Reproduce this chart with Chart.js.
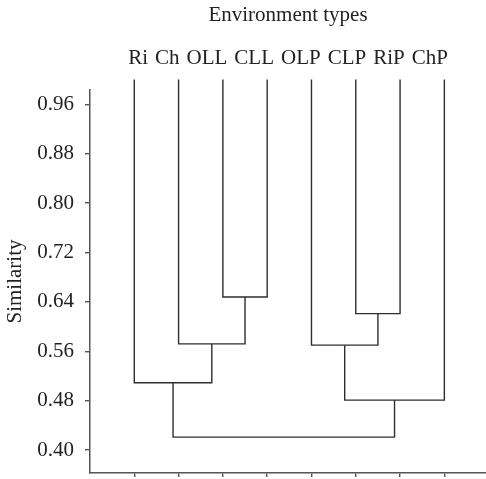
<!DOCTYPE html>
<html>
<head>
<meta charset="utf-8">
<script src="https://cdn.jsdelivr.net/npm/chart.js@4/dist/chart.umd.min.js"></script>
<style>
  html, body { margin: 0; padding: 0; background: #ffffff; }
  #wrap { width: 486px; height: 479px; position: relative; }
</style>
</head>
<body>
<div id="wrap"><canvas id="c"></canvas></div>
<script>
// ---- data ----
const categories = ['Ri', 'Ch', 'OLL', 'CLL', 'OLP', 'CLP', 'RiP', 'ChP'];
const leafHeight = 1.0;
// merges (cluster ids: 0-7 leaves, 8+ merges in order)
const mergeLeft   = [2, 1, 0, 5, 4, 12, 10];
const mergeRight  = [3, 8, 9, 6, 11, 7, 13];
const mergeHeight = [0.648, 0.572, 0.509, 0.621, 0.570, 0.481, 0.421];
const yTickValues = [0.40, 0.48, 0.56, 0.64, 0.72, 0.80, 0.88, 0.96];
const xTickValues = [1, 2, 3, 4, 5, 6, 7, 8];

// ---- build dendrogram segments ----
const nodeX = categories.map((_, i) => i + 1);
const nodeH = categories.map(() => leafHeight);
const datasets = [];
mergeLeft.forEach((a, k) => {
  const b = mergeRight[k];
  const h = mergeHeight[k];
  const xa = nodeX[a], xb = nodeX[b];
  datasets.push({
    data: [{x: xa, y: nodeH[a]}, {x: xa, y: h}, {x: xb, y: h}, {x: xb, y: nodeH[b]}],
    borderColor: '#2e2e2e',
    borderWidth: 1.4,
    pointRadius: 0,
    fill: false,
    tension: 0,
    clip: false
  });
  nodeX.push((xa + xb) / 2);
  nodeH.push(h);
});

const FONT = "'Liberation Serif', 'Times New Roman', serif";
const axisColor = '#555555';

new Chart(document.getElementById('c'), {
  type: 'line',
  data: { datasets },
  options: {
    responsive: true,
    maintainAspectRatio: false,
    animation: false,
    events: [],
    layout: { autoPadding: false, padding: { left: 0, right: 0, top: 0, bottom: 0 } },
    plugins: {
      legend: { display: false },
      tooltip: { enabled: false },
      title: {
        display: true,
        text: 'Environment types',
        fullSize: false,
        color: '#222222',
        font: { family: FONT, size: 21, weight: 'normal', lineHeight: 1.2 },
        padding: { top: 3, bottom: 17.2 }
      },
      subtitle: {
        display: true,
        text: categories.join(' \u200A'),
        fullSize: false,
        color: '#222222',
        font: { family: FONT, size: 21, weight: 'normal', lineHeight: 1.2 },
        padding: { top: 0, bottom: 19.4 }
      }
    },
    scales: {
      x: {
        type: 'linear',
        min: 0,
        max: 8.94,
        afterBuildTicks: (s) => { s.ticks = xTickValues.map(v => ({ value: v })); },
        afterFit: (s) => { s.height = 6; s.paddingLeft = 0; s.paddingRight = 0; },
        ticks: { display: false },
        grid: { display: true, drawOnChartArea: false, drawTicks: true, tickLength: 4, color: axisColor, lineWidth: 1.4 },
        border: { display: true, color: axisColor, width: 1.5 }
      },
      y: {
        type: 'linear',
        min: 0.363,
        max: 0.983,
        afterBuildTicks: (s) => { s.ticks = yTickValues.map(v => ({ value: v })); },
        afterFit: (s) => { s.width = 90; s.paddingTop = 0; s.paddingBottom = 0; },
        ticks: {
          color: '#222222',
          padding: 11,
          font: { family: FONT, size: 21 },
          callback: (v) => Number(v).toFixed(2)
        },
        grid: { display: true, drawOnChartArea: false, drawTicks: true, tickLength: 5, color: axisColor, lineWidth: 1.4 },
        border: { display: true, color: axisColor, width: 1.5 },
        title: {
          display: true,
          text: 'Similarity',
          color: '#222222',
          font: { family: FONT, size: 21, lineHeight: 1.2 },
          padding: { top: 2.4, bottom: 0 }
        }
      }
    }
  }
});
</script>
</body>
</html>
